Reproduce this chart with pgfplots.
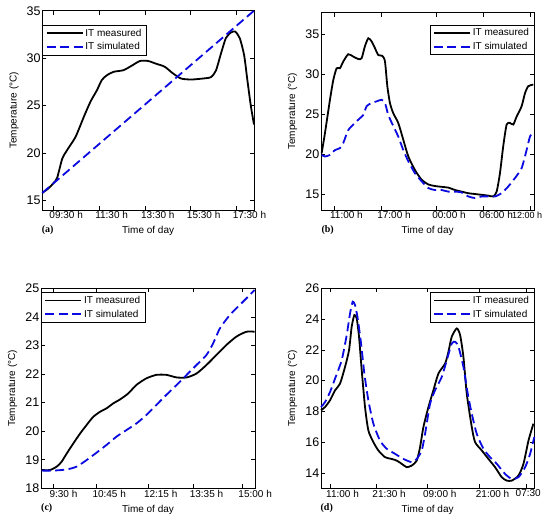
\documentclass[border=0pt]{standalone}
\usepackage{fontspec}
\setmainfont{Liberation Sans}
\newfontfamily\serifbf{Liberation Serif}
\usepackage{pgfplots}
\pgfplotsset{compat=1.18}
\definecolor{simblue}{RGB}{10,10,225}
\pgfplotsset{
  panel/.style={
    scale only axis, clip=false,
    axis line style={line width=0.7pt},
    tick align=inside, major tick length=4pt,
    tick style={black, line width=0.6pt},
    xticklabel style={font=\fontsize{10}{12}\selectfont, anchor=north west, xshift=-5.5pt, inner sep=1.5pt},
    yticklabel style={font=\fontsize{12.5}{14}\selectfont, inner sep=1.5pt},
    xlabel={Time of day}, ylabel={Temperature (°C)},
    every axis x label/.style={at={(axis description cs:0.5,-0.107)}, anchor=center, font=\fontsize{10}{12}\selectfont},
    every axis y label/.style={at={(axis description cs:-0.133,0.5)}, anchor=center, rotate=90, font=\fontsize{10}{12}\selectfont},
    legend style={draw=black, line width=0.6pt, fill=white, font=\fontsize{10}{12}\selectfont,
      inner xsep=3pt, inner ysep=1.5pt, row sep=1pt, legend cell align=left},
    legend image code/.code={\draw[##1, line width=1.8pt] (0pt,0pt) -- (36pt,0pt);},
  },
  meas/.style={black, line width=1.8pt, smooth, tension=0.4},
  sim/.style={simblue, line width=1.8pt, dash pattern=on 9pt off 4.5pt, smooth, tension=0.4},
}
\begin{document}
\begin{tikzpicture}
\path[use as bounding box] (0,0) rectangle (550pt,523pt);
% ---------------- (a)
\begin{axis}[panel, at={(42.3pt,313pt)}, anchor=south west, width=211.7pt, height=199.3pt,
  xmin=9.02, xmax=18.26, ymin=14, ymax=35,
  xtick={9.5,11.5,13.5,15.5,17.5}, xticklabels={09:30 h,11:30 h,13:30 h,15:30 h,17:30 h},
  ytick={15,20,25,30,35}, yticklabels={15,20,25,30,35},
  legend style={at={(axis description cs:0,0.928)}, anchor=north west}]
\addplot[meas] coordinates {(9.02,15.8) (9.3,16.3) (9.53,16.9) (9.67,17.4) (9.89,19.4) (10.1,20.3) (10.47,21.7) (10.83,23.8) (11.12,25.4) (11.4,26.6) (11.62,27.7) (11.84,28.2) (12.13,28.56) (12.56,28.73) (12.92,29.2) (13.28,29.7) (13.64,29.7) (14.0,29.4) (14.36,29.1) (14.72,28.4) (15.08,27.85) (15.52,27.75) (16.02,27.85) (16.38,28.0) (16.6,28.7) (16.82,30.5) (17.03,32.1) (17.25,32.7) (17.44,32.8) (17.64,32.1) (17.83,30.3) (17.97,27.7) (18.12,25.0) (18.26,23.0)};
\addlegendentry{IT measured}
\addplot[sim] coordinates {(9.02,15.8) (11.33,20.6) (13.64,25.4) (15.95,30.2) (18.26,35.0)};
\addlegendentry{IT simulated}
\node[font=\serifbf\bfseries\fontsize{10}{12}\selectfont] at (axis description cs:0.025,-0.1) {(a)};
\end{axis}
% ---------------- (b)
\begin{axis}[panel, at={(321pt,313pt)}, anchor=south west, width=213.3pt, height=197.3pt,
  xmin=9.35, xmax=36.49, ymin=13, ymax=37.7,
  xtick={11,17,24,30}, xticklabels={11:00 h,17:00 h,00:00 h,06:00 h},
  extra x ticks={36}, extra x tick labels={12:00 h},
  extra x tick style={xticklabel style={font=\fontsize{9}{11}\selectfont, anchor=north east, xshift=19pt}},
  ytick={15,20,25,30,35}, yticklabels={15,20,25,30,35},
  legend style={at={(axis description cs:1,0.938)}, anchor=north east}]
\addplot[meas] coordinates {(9.43,20.1) (9.85,22.6) (10.49,26.8) (10.92,29.3) (11.34,30.75) (11.76,30.75) (12.19,31.6) (12.82,32.5) (13.46,32.2) (14.1,31.9) (14.52,32.0) (14.94,33.5) (15.37,34.5) (15.79,34.1) (16.22,33.25) (16.64,32.4) (17.15,32.3) (17.49,31.6) (17.79,28.5) (18.12,26.4) (18.55,25.1) (19.18,23.9) (19.82,21.8) (20.46,19.7) (21.31,18.0) (22.15,16.8) (23.0,16.2) (23.85,16.0) (24.7,15.9) (25.55,15.8) (26.4,15.5) (27.24,15.3) (28.09,15.1) (28.94,15.0) (29.79,14.9) (30.64,14.8) (31.27,14.7) (31.7,15.3) (32.12,17.6) (32.54,21.0) (32.97,23.7) (33.39,23.9) (33.82,23.7) (34.24,24.7) (34.88,26.0) (35.3,27.6) (35.72,28.5) (36.36,28.7)};
\addlegendentry{IT measured}
\addplot[sim] coordinates {(9.43,19.9) (9.85,19.7) (10.49,19.9) (11.13,20.5) (11.76,20.75) (12.19,21.4) (12.82,23.0) (13.67,23.9) (14.31,24.5) (14.73,24.9) (15.16,26.0) (15.79,26.4) (16.43,26.6) (17.06,26.8) (17.49,26.4) (17.91,24.9) (18.55,23.5) (19.18,22.2) (19.82,20.5) (20.46,19.1) (21.31,17.6) (22.15,16.6) (23.0,15.75) (23.85,15.5) (24.7,15.5) (25.55,15.3) (26.4,15.3) (27.24,15.2) (28.09,14.7) (28.94,14.5) (29.79,14.7) (30.64,14.7) (31.49,14.7) (32.33,15.1) (33.18,15.95) (34.03,17.0) (34.88,18.25) (35.51,20.5) (35.94,22.2) (36.36,22.8)};
\addlegendentry{IT simulated}
\node[font=\serifbf\bfseries\fontsize{10}{12}\selectfont] at (axis description cs:0.031,-0.1) {(b)};
\end{axis}
% ---------------- (c)
\begin{axis}[panel, at={(41pt,34.7pt)}, anchor=south west, width=214pt, height=200pt,
  xmin=9.14, xmax=15.37, ymin=18, ymax=25,
  xtick={9.5,10.75,12.25,13.583,15}, xticklabels={9:30 h,10:45 h,12:15 h,13:35 h,15:00 h},
  ytick={18,19,20,21,22,23,24,25}, yticklabels={18,19,20,21,22,23,24,25},
  legend style={at={(axis description cs:0,0.98)}, anchor=north west}]
\addplot[meas] coordinates {(9.16,18.64) (9.4,18.64) (9.6,18.76) (9.74,18.93) (9.89,19.22) (10.08,19.57) (10.28,19.92) (10.47,20.22) (10.66,20.5) (10.86,20.68) (11.05,20.8) (11.24,20.97) (11.44,21.11) (11.68,21.32) (11.92,21.62) (12.21,21.85) (12.5,21.97) (12.79,21.97) (13.09,21.88) (13.38,21.88) (13.67,22.02) (13.96,22.32) (14.25,22.67) (14.54,23.02) (14.83,23.31) (15.12,23.48) (15.36,23.48)};
\addlegendentry{IT measured}
\addplot[sim] coordinates {(9.16,18.62) (9.5,18.62) (9.89,18.66) (10.18,18.76) (10.47,18.99) (10.76,19.25) (11.05,19.52) (11.34,19.81) (11.63,20.04) (11.92,20.27) (12.21,20.57) (12.5,20.92) (12.79,21.27) (13.09,21.62) (13.38,21.97) (13.67,22.32) (13.96,22.67) (14.15,23.07) (14.35,23.6) (14.64,24.07) (14.93,24.42) (15.22,24.77) (15.36,24.94)};
\addlegendentry{IT simulated}
\node[font=\serifbf\bfseries\fontsize{10}{12}\selectfont] at (axis description cs:0.027,-0.1) {(c)};
\end{axis}
% ---------------- (d)
\begin{axis}[panel, at={(321pt,34.7pt)}, anchor=south west, width=213.3pt, height=200pt,
  xmin=8.95, xmax=57.4, ymin=13, ymax=26,
  xtick={11,21.5,33,45}, xticklabels={11:00 h,21:30 h,09:00 h,21:00 h},
  extra x ticks={55.5}, extra x tick labels={07:30},
  extra x tick style={xticklabel style={anchor=north east, xshift=22pt}},
  ytick={14,16,18,20,22,24,26}, yticklabels={14,16,18,20,22,24,26},
  legend style={at={(axis description cs:1,0.98)}, anchor=north east}]
\addplot[meas] coordinates {(8.95,18.07) (9.86,18.28) (11.0,18.72) (12.14,19.37) (13.27,19.8) (14.41,20.89) (15.32,21.98) (15.92,23.5) (16.53,24.26) (17.06,24.04) (17.59,22.85) (18.2,20.67) (18.95,18.28) (19.71,16.76) (20.85,16.0) (21.98,15.46) (23.5,15.02) (25.0,14.91) (26.15,14.8) (27.29,14.59) (28.42,14.37) (29.56,14.48) (30.7,14.8) (31.45,15.67) (32.21,16.98) (33.35,18.28) (34.48,19.37) (35.62,20.46) (37.14,21.11) (37.89,21.87) (38.65,22.85) (39.79,23.39) (40.55,22.96) (41.3,21.54) (42.06,19.15) (43.2,16.98) (43.95,16.0) (45.47,15.46) (46.98,14.91) (48.5,14.37) (50.0,13.72) (51.15,13.5) (52.29,13.5) (53.8,13.83) (54.94,14.59) (56.08,16.1) (57.2,17.2)};
\addlegendentry{IT measured}
\addplot[sim] coordinates {(8.95,18.28) (9.86,18.6) (11.0,19.26) (12.14,20.13) (13.65,21.33) (14.79,22.96) (15.55,24.37) (16.15,25.13) (16.68,24.91) (17.29,24.04) (18.05,22.41) (18.8,20.46) (19.71,18.72) (20.85,17.2) (22.36,16.1) (23.88,15.57) (25.77,15.24) (27.67,14.91) (29.56,14.7) (30.7,14.91) (31.83,15.46) (32.59,16.54) (33.73,18.5) (34.86,19.37) (36.38,20.24) (37.52,21.33) (38.65,22.41) (39.41,22.52) (40.17,22.2) (41.3,20.89) (42.29,19.15) (43.2,17.85) (44.33,16.54) (45.85,15.57) (47.36,15.02) (48.88,14.59) (50.77,13.93) (52.29,13.61) (53.8,13.72) (55.32,14.37) (56.45,15.24) (57.4,16.33)};
\addlegendentry{IT simulated}
\node[font=\serifbf\bfseries\fontsize{10}{12}\selectfont] at (axis description cs:0.027,-0.1) {(d)};
\end{axis}
\end{tikzpicture}
\end{document}
